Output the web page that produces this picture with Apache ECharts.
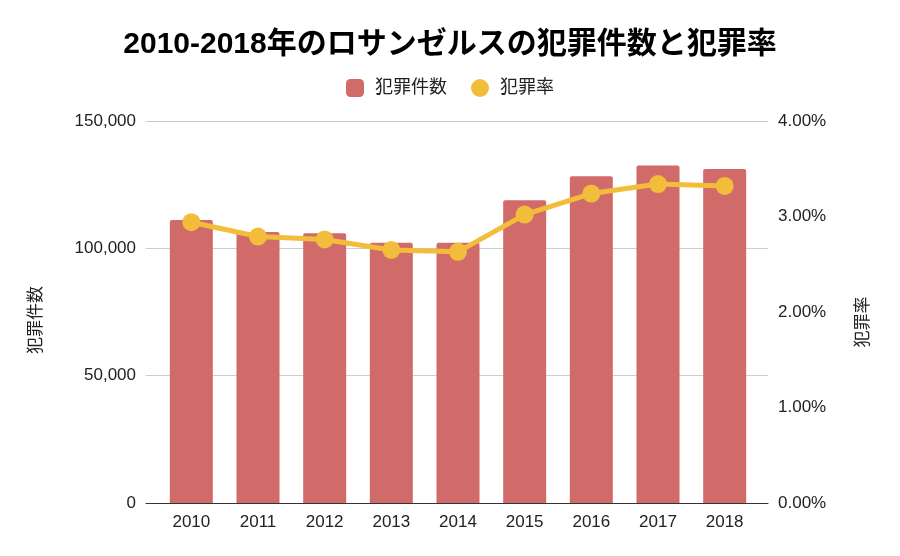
<!DOCTYPE html>
<html><head><meta charset="utf-8">
<script src="https://cdn.jsdelivr.net/npm/echarts@6/dist/echarts.min.js"></script>
<style>html,body{margin:0;padding:0;background:#fff}#c{width:900px;height:556px}</style>
</head><body><div id="c"></div>
<script>
const years = ['2010','2011','2012','2013','2014','2015','2016','2017','2018'];
const crimeCounts = [111100, 106400, 105900, 102200, 102200, 118900, 128300, 132500, 131200];
const crimeRates = [2.94, 2.79, 2.76, 2.65, 2.63, 3.02, 3.24, 3.34, 3.32];
const countTicks = [0, 50000, 150000];
const FONT = '"Liberation Sans", "Noto Sans CJK JP", sans-serif';
const chart = echarts.init(document.getElementById('c'));
const gridTop = 121, gridBottom = 53;
chart.setOption({
  animation: false,
  textStyle: {fontFamily: FONT},
  title: {text: '2010-2018年のロサンゼルスの犯罪件数と犯罪率', left: 'center', top: 25,
    textStyle: {fontFamily: FONT, fontSize: 30, fontWeight: 'bold', color: '#000'}},
  legend: {top: 74, left: 'center', itemWidth: 18, itemHeight: 18, itemGap: 24,
    textStyle: {fontFamily: FONT, fontSize: 18, color: '#222', padding: [0,0,0,6]},
    data: [{name: '犯罪件数', icon: 'roundRect'}, {name: '犯罪率', icon: 'circle'}]},
  grid: [
    {left: 146, right: 132, top: gridTop, bottom: gridBottom},
    {left: 158, right: 142, top: gridTop, bottom: gridBottom}
  ],
  xAxis: [
    {gridIndex: 0, type: 'category', data: years, boundaryGap: true,
     axisLine: {show: true, lineStyle: {color: '#333', width: 1}}, axisTick: {show: false}, axisLabel: {show: false}, splitLine: {show: false}},
    {gridIndex: 1, type: 'category', data: years,
     axisLine: {show: false}, axisTick: {show: false},
     axisLabel: {fontFamily: FONT, fontSize: 17, color: '#222', margin: 11}}
  ],
  yAxis: [
    {gridIndex: 0, type: 'value', min: countTicks[0], max: countTicks[2], interval: countTicks[1], position: 'left',
     name: '犯罪件数', nameLocation: 'middle', nameRotate: 90, nameGap: 101,
     nameTextStyle: {fontFamily: FONT, fontSize: 17, color: '#222', padding: [0, 16, 0, 0]},
     axisLine: {show: false}, axisTick: {show: false},
     axisLabel: {fontFamily: FONT, fontSize: 17, color: '#222', margin: 10,
       formatter: v => v.toLocaleString('en-US')},
     splitLine: {lineStyle: {color: '#cccccc', width: 1}}},
    {gridIndex: 0, type: 'value', min: 0, max: 4, interval: 1, position: 'right',
     name: '犯罪率', nameLocation: 'middle', nameRotate: 90, nameGap: 87,
     nameTextStyle: {fontFamily: FONT, fontSize: 17, color: '#222', padding: [0, 20, 0, 0]},
     axisLine: {show: false}, axisTick: {show: false},
     axisLabel: {fontFamily: FONT, fontSize: 17, color: '#222', margin: 10,
       formatter: v => v.toFixed(2) + '%'},
     splitLine: {show: false}},
    {gridIndex: 1, type: 'value', min: countTicks[0], max: countTicks[2], interval: countTicks[1], show: false},
    {gridIndex: 1, type: 'value', min: 0, max: 4, interval: 1, show: false}
  ],
  series: [
    {name: '犯罪件数', type: 'bar', xAxisIndex: 1, yAxisIndex: 2, data: crimeCounts,
     barWidth: 43, itemStyle: {color: '#d16b69', borderRadius: [2,2,0,0]}},
    {name: '犯罪率', type: 'line', xAxisIndex: 1, yAxisIndex: 3, data: crimeRates,
     symbol: 'circle', symbolSize: 18, lineStyle: {color: '#f2bd3b', width: 5},
     itemStyle: {color: '#f2bd3b'}, z: 5}
  ]
});
</script></body></html>
